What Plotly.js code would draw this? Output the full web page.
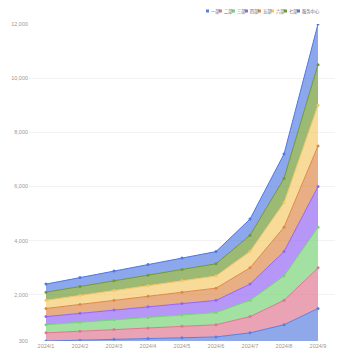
<!DOCTYPE html>
<html>
<head>
<meta charset="utf-8">
<script src="https://cdn.plot.ly/plotly-3.0.1.min.js"></script>
<style>html,body{margin:0;padding:0;background:#fff;}#chart{width:350px;height:350px;}</style>
</head>
<body>
<div id="chart"></div>
<script>
const months = ["2024/1","2024/2","2024/3","2024/4","2024/5","2024/6","2024/7","2024/8","2024/9"];
const seriesNames = ["一部","二部","三部","四部","五部","六部","七部","服务中心"];
const dept1 = [300, 330, 360, 390, 420, 450, 600, 900, 1500];
const dept2 = [300, 330, 360, 390, 420, 450, 600, 900, 1500];
const dept3 = [300, 330, 360, 390, 420, 450, 600, 900, 1500];
const dept4 = [300, 330, 360, 390, 420, 450, 600, 900, 1500];
const dept5 = [300, 330, 360, 390, 420, 450, 600, 900, 1500];
const dept6 = [300, 330, 360, 390, 420, 450, 600, 900, 1500];
const dept7 = [300, 330, 360, 390, 420, 450, 600, 900, 1500];
const service = [300, 330, 360, 390, 420, 450, 600, 900, 1500];
const yTicks = [300, 2000, 4000, 6000, 8000, 10000, 12000];

const allSeries = [dept1, dept2, dept3, dept4, dept5, dept6, dept7, service];
const lineColors = ["#5a7fe0","#de7792","#77d377","#9466f5","#de894a","#f4c869","#6f9a33","#4f78e0"];
const fillColors = ["rgba(90,127,224,0.68)","rgba(222,119,146,0.68)","rgba(119,211,119,0.68)","rgba(148,102,245,0.68)","rgba(222,137,74,0.68)","rgba(244,200,105,0.68)","rgba(111,154,51,0.68)","rgba(79,120,224,0.65)"];

const traces = allSeries.map((vals, i) => ({
  type: "scatter",
  x: months,
  y: vals,
  name: seriesNames[i],
  stackgroup: "one",
  mode: "lines+markers",
  line: {color: lineColors[i], width: 1},
  marker: {color: lineColors[i], size: 3},
  fillcolor: fillColors[i],
  showlegend: false
}));

const L = 29, R = 15, T = 24, B = 9, W = 350, H = 350;
const plotW = W - L - R, plotH = H - T - B;
const px2x = p => (p - L) / plotW;
const py2y = p => (H - B - p) / plotH;
const legendX = seriesNames.map((n, i) => 207.5 + 13 * i);
const legendY = 11;

const annotations = seriesNames.map((n, i) => ({
  xref: "paper", yref: "paper",
  x: px2x(legendX[i] + 2.2),
  y: py2y(legendY),
  xanchor: "left", yanchor: "middle",
  showarrow: false, borderpad: 0,
  text: n,
  font: {size: 4.3, color: "#666", family: "Noto Sans CJK SC, sans-serif"}
}));
const shapes = seriesNames.map((n, i) => ({
  type: "rect", xref: "paper", yref: "paper",
  x0: px2x(legendX[i] - 1.5), x1: px2x(legendX[i] + 1.5),
  y0: py2y(legendY + 1.5), y1: py2y(legendY - 1.5),
  fillcolor: lineColors[i], line: {width: 0}
}));

const layout = {
  width: W, height: H,
  margin: {l: L, r: R, t: T, b: B, pad: 0},
  paper_bgcolor: "#fff", plot_bgcolor: "#fff",
  showlegend: false,
  xaxis: {
    type: "category",
    range: [-0.5, 8.5],
    showgrid: false, zeroline: false, showline: false,
    ticks: "",
    tickfont: {size: 5.5, color: "#999", family: "Liberation Sans, sans-serif"},
    fixedrange: true
  },
  yaxis: {
    range: [300, 12000],
    tickvals: yTicks,
    ticktext: yTicks.map(v => v.toLocaleString("en-US")),
    showgrid: true, gridcolor: "#f2f2f2", gridwidth: 1,
    zeroline: false, showline: false,
    ticks: "",
    tickfont: {size: 5.5, color: "#999", family: "Liberation Sans, sans-serif"},
    fixedrange: true
  },
  annotations: annotations,
  shapes: shapes
};

Plotly.newPlot("chart", traces, layout, {displayModeBar: false, staticPlot: true});
</script>
</body>
</html>
